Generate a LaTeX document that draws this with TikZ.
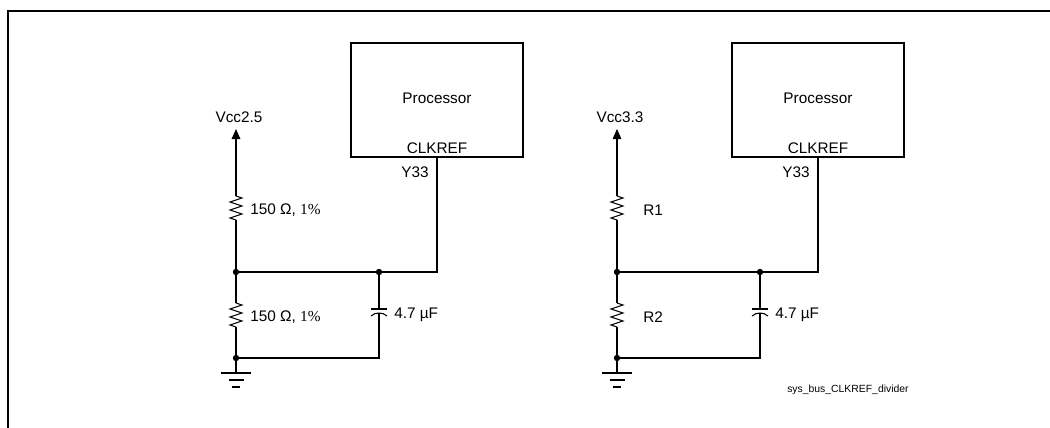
\documentclass[tikz,border=0pt]{standalone}
\usepackage{fontspec}
\setmainfont{Liberation Sans}
\newfontfamily\serifff{Liberation Serif}
\usetikzlibrary{arrows.meta,calc}
\newcommand\resA{150 Ω, {\serifff 1\%}}
\begin{document}
\begin{tikzpicture}[x=0.75pt,y=-0.75pt,
  wire/.style={line width=0.8pt},
  lbl/.style={font=\fontsize{11.5}{13}\selectfont, inner sep=0pt},
  jdot/.style={circle, fill, inner sep=0pt, minimum size=4.8pt},
  procbox/.style={draw, line width=0.8pt, minimum width=129pt, minimum height=85.5pt, inner sep=0pt},
  vtip/.style={-{Triangle[length=7.5pt,width=6.5pt]}}]
\useasboundingbox (0,0) rectangle (1050,428);
\draw[line width=1.5pt] (7.5,430) -- (7.5,11) -- (1052,11);
\foreach \p/\dx/\vcc/\lx/\ra/\rb in {L/0/Vcc2.5/250/\resA/\resA, R/381/Vcc3.3/262/R1/R2} {
  \node[procbox] (\p proc) at (437+\dx,100) {};
  \node[lbl] (\p proctxt) at (437+\dx,98) {Processor};
  \node[lbl] (\p clk) at (437+\dx,148) {CLKREF};
  \node[lbl] (\p pinlbl) at (415+\dx,172) {Y33};
  \coordinate (\p vcc) at (236+\dx,129);
  \coordinate (\p r1t) at (236+\dx,196);
  \coordinate (\p r1b) at (236+\dx,220);
  \coordinate (\p top) at (236+\dx,272);
  \coordinate (\p r2t) at (236+\dx,303);
  \coordinate (\p r2b) at (236+\dx,327);
  \coordinate (\p bot) at (236+\dx,358);
  \coordinate (\p gnd) at (236+\dx,373);
  \coordinate (\p cj) at (379+\dx,272);
  \coordinate (\p ct) at (379+\dx,309);
  \coordinate (\p cb) at (379+\dx,313);
  \coordinate (\p cbot) at (379+\dx,358);
  \coordinate (\p corner) at (437+\dx,272);
  % supply
  \draw[wire,vtip] (\p r1t) -- (\p vcc);
  \node[lbl] (\p vcclbl) at (239+\dx,117) {\vcc};
  % resistors
  \draw[wire] (\p r1t) -- ++(6,2) -- ++(-12,4) -- ++(12,4) -- ++(-12,4) -- ++(12,4) -- ++(-12,4) -- (\p r1b);
  \draw[wire] (\p r2t) -- ++(6,2) -- ++(-12,4) -- ++(12,4) -- ++(-12,4) -- ++(12,4) -- ++(-12,4) -- (\p r2b);
  \node[lbl, anchor=west] (\p ralbl) at (\lx+\dx,210) {\ra};
  \node[lbl, anchor=west] (\p rblbl) at (\lx+\dx,317) {\rb};
  % wires
  \draw[wire] (\p r1b) -- (\p top) -- (\p r2t);
  \draw[wire] (\p r2b) -- (\p bot) -- (\p gnd);
  \draw[wire] (\p top) -- (\p cj) -- (\p corner) -- (\p proc.south);
  \draw[wire] (\p cj) -- (\p ct);
  \draw[wire] ($(\p ct)+(-8,0)$) -- ($(\p ct)+(8,0)$);
  \draw[wire] ($(\p cb)+(-8,3)$) .. controls ($(\p cb)+(-4,-1)$) and ($(\p cb)+(4,-1)$) .. ($(\p cb)+(8,3)$);
  \draw[wire] (\p cb) -- (\p cbot) -- (\p bot);
  \node[lbl, anchor=west] (\p caplbl) at (394+\dx,315) {4.7 µF};
  % junctions
  \node[jdot] (\p d1) at (\p top) {};
  \node[jdot] (\p d2) at (\p cj) {};
  \node[jdot] (\p d3) at (\p bot) {};
  % ground
  \draw[wire] ($(\p gnd)+(-15,0)$) -- ($(\p gnd)+(15,0)$);
  \draw[wire] ($(\p gnd)+(-7.5,7)$) -- ($(\p gnd)+(7.5,7)$);
  \draw[wire] ($(\p gnd)+(-4,14)$) -- ($(\p gnd)+(4,14)$);
}
\node[font=\fontsize{7.8}{9}\selectfont, inner sep=0pt, anchor=west] (tag) at (787,390) {sys\_bus\_CLKREF\_divider};
\end{tikzpicture}
\end{document}
